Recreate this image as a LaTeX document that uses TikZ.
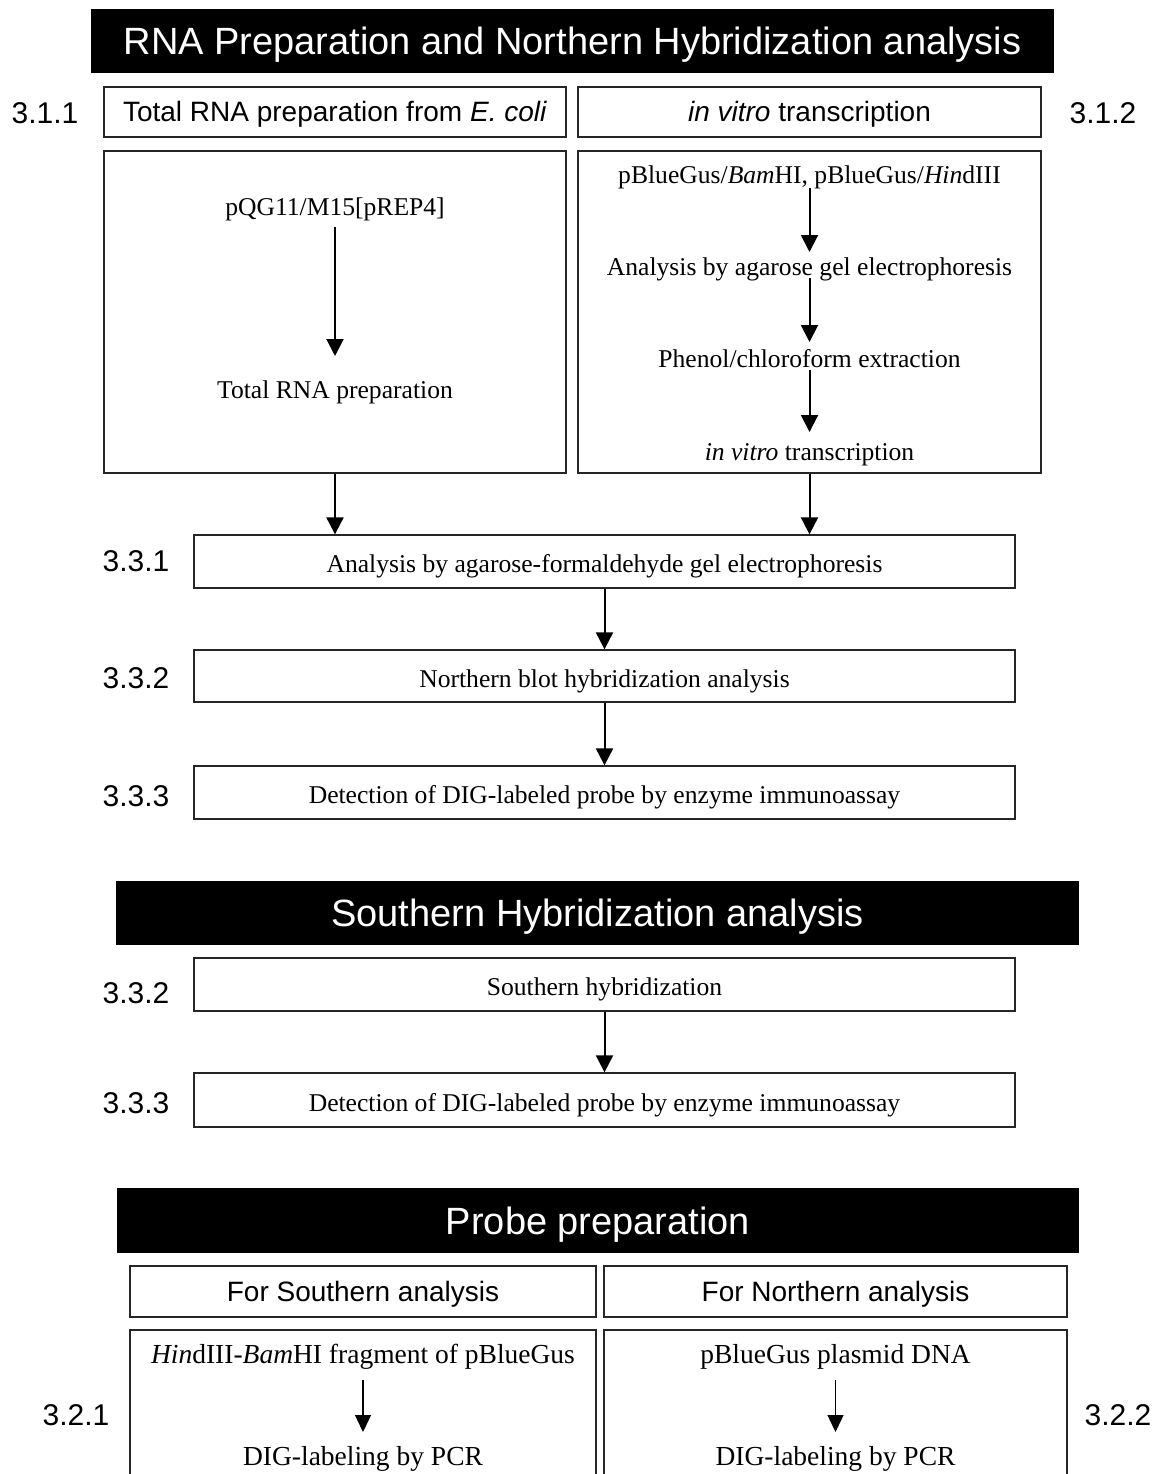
\documentclass[tikz,border=0pt]{standalone}
\usepackage{fontspec}
\setmainfont{Liberation Serif}
\setsansfont{Liberation Sans}
\usetikzlibrary{arrows.meta}
\begin{document}
\begin{tikzpicture}[x=1pt,y=-1pt,
  titlebar/.style={fill=black, inner sep=0pt, text=white,
    font=\sffamily\fontsize{38}{44}\selectfont, text height=27.2pt, text depth=0pt},
  hdr/.style={draw=black!85, line width=1.3pt, inner sep=0pt,
    font=\sffamily\fontsize{28}{32}\selectfont, text height=20pt, text depth=0pt},
  proc/.style={draw=black!85, line width=1.3pt, inner sep=0pt, minimum width=821pt,
    font=\fontsize{25.6}{30}\selectfont, text height=22pt, text depth=0pt},
  bigbox/.style={draw=black!85, line width=1.3pt, inner sep=0pt},
  stepttxt/.style={anchor=base, inner sep=0pt, font=\fontsize{25.6}{30}\selectfont},
  probetxt/.style={anchor=base, inner sep=0pt, font=\fontsize{27.5}{32}\selectfont},
  lab/.style={inner sep=0pt, font=\sffamily\fontsize{30}{34}\selectfont},
  arr/.style={-{Triangle[length=17pt,width=17pt]}, line width=2pt},
  parr/.style={-{Triangle[length=17pt,width=16pt]}, line width=1.3pt}]
\useasboundingbox (0,0) rectangle (1157,1474);

% ---------- Section 1 ----------
\node[titlebar, minimum width=963pt, minimum height=64pt] (t1) at (572.5,41)
  {RNA Preparation and Northern Hybridization analysis};
\node[hdr, minimum width=462pt, minimum height=50pt] (hL) at (335,112)
  {Total RNA preparation from \textit{E. coli}};
\node[hdr, minimum width=463pt, minimum height=50pt] (hR) at (809.5,112)
  {\textit{in vitro} transcription};
\node[lab] (n311) at (45,113) {3.1.1};
\node[lab] (n312) at (1103,113) {3.1.2};

\node[bigbox, minimum width=462pt, minimum height=322pt] (bL) at (335,312) {};
\node[bigbox, minimum width=463pt, minimum height=322pt] (bR) at (809.5,312) {};

\node[stepttxt] (l1) at (335,215) {pQG11/M15[pREP4]};
\node[stepttxt] (l2) at (335,398) {Total RNA preparation};
\draw[arr] ([yshift=-12pt]l1.base) -- ([yshift=42pt]l2.base);

\node[stepttxt] (r1) at (809.5,184) {pBlueGus/\textit{Bam}HI, pBlueGus/\textit{Hin}dIII};
\node[stepttxt] (r2) at (809.5,275) {Analysis by agarose gel electrophoresis};
\node[stepttxt] (r3) at (809.5,367) {Phenol/chloroform extraction};
\node[stepttxt] (r4) at (809.5,460) {\textit{in vitro} transcription};
\draw[arr] ([yshift=-4pt]r1.base) -- ([yshift=23pt]r2.base);
\draw[arr] ([yshift=-3pt]r2.base) -- ([yshift=25pt]r3.base);
\draw[arr] ([yshift=-3pt]r3.base) -- ([yshift=28pt]r4.base);

\node[proc, minimum height=53pt] (p1) at (604.5,561.5)
  {Analysis by agarose-formaldehyde gel electrophoresis};
\node[proc, minimum height=52pt] (p2) at (604.5,676)
  {Northern blot hybridization analysis};
\node[proc, minimum height=53pt] (p3) at (604.5,792.5)
  {Detection of DIG-labeled probe by enzyme immunoassay};
\node[lab] (n331) at (136,561) {3.3.1};
\node[lab] (n332) at (136,678) {3.3.2};
\node[lab] (n333) at (136,796) {3.3.3};

\draw[arr] (bL.south) -- (bL.south |- p1.north);
\draw[arr] (bR.south) -- (bR.south |- p1.north);
\draw[arr] (p1) -- (p2);
\draw[arr] (p2) -- (p3);

% ---------- Section 2 ----------
\node[titlebar, minimum width=963pt, minimum height=64pt] (t2) at (597.5,913)
  {Southern Hybridization analysis};
\node[proc, minimum height=53pt] (s1) at (604.5,984.5) {Southern hybridization};
\node[proc, minimum height=54pt] (s2) at (604.5,1100)
  {Detection of DIG-labeled probe by enzyme immunoassay};
\node[lab] (m332) at (136,993) {3.3.2};
\node[lab] (m333) at (136,1103) {3.3.3};
\draw[arr] (s1) -- (s2);

% ---------- Section 3 ----------
\node[titlebar, minimum width=962pt, minimum height=65pt] (t3) at (598,1220.5)
  {Probe preparation};
\node[hdr, minimum width=466pt, minimum height=51pt] (qL) at (363,1291.5)
  {For Southern analysis};
\node[hdr, minimum width=463pt, minimum height=51pt] (qR) at (835.5,1291.5)
  {For Northern analysis};
\node[bigbox, minimum width=466pt, minimum height=170pt] (cL) at (363,1415) {};
\node[bigbox, minimum width=463pt, minimum height=170pt] (cR) at (835.5,1415) {};
\node[probetxt] (a1) at (363,1363) {\textit{Hin}dIII-\textit{Bam}HI fragment of pBlueGus};
\node[probetxt] (a2) at (363,1465) {DIG-labeling by PCR};
\node[probetxt] (b1) at (835.5,1363) {pBlueGus plasmid DNA};
\node[probetxt] (b2) at (835.5,1465) {DIG-labeling by PCR};
\draw[parr] ([yshift=-17pt]a1.base) -- ([yshift=33pt]a2.base);
\draw[parr] ([yshift=-17pt]b1.base) -- ([yshift=33pt]b2.base);
\node[lab] (n321) at (76,1415) {3.2.1};
\node[lab] (n322) at (1118,1415) {3.2.2};
\end{tikzpicture}
\end{document}
